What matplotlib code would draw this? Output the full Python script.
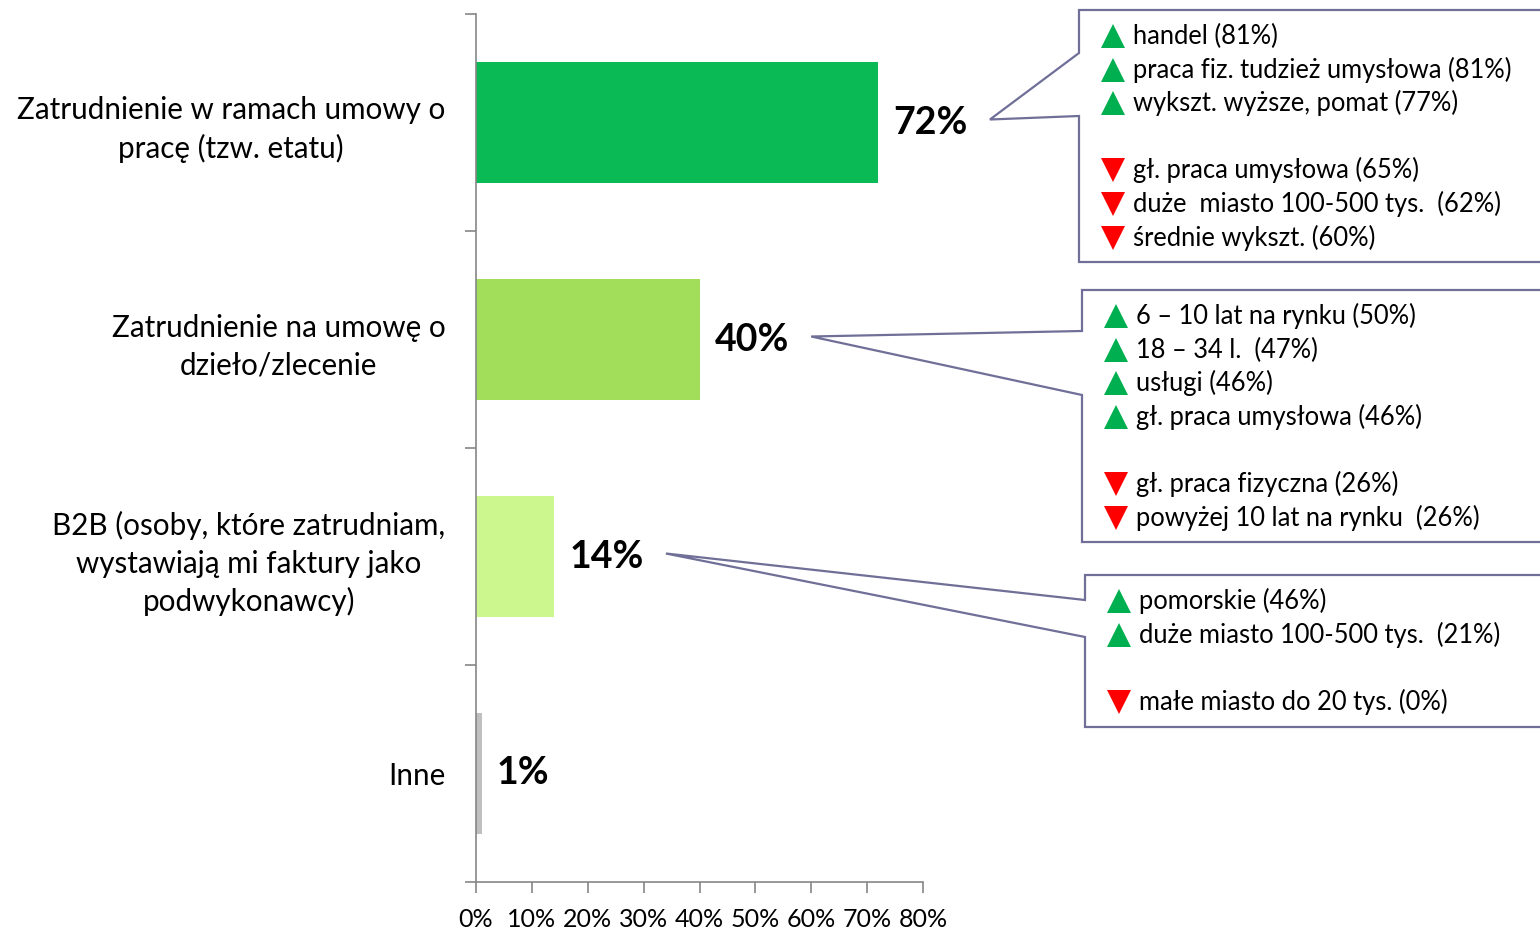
import matplotlib.pyplot as plt
from matplotlib.patches import Polygon
from matplotlib.ticker import FixedLocator, PercentFormatter

plt.rcParams["font.family"] = ["Lato", "DejaVu Sans"]

categories = [
    "Zatrudnienie w ramach umowy o\npracę (tzw. etatu)",
    "Zatrudnienie na umowę o\ndzieło/zlecenie",
    "B2B (osoby, które zatrudniam,\nwystawiają mi faktury jako\npodwykonawcy)",
    "Inne",
]
shares = [72, 40, 14, 1]
bar_colors = ["#0abb55", "#a3de5a", "#ccf78f", "#bfbfbf"]
x_ticks = [0, 10, 20, 30, 40, 50, 60, 70, 80]

# groups that differ from the average, per answer ("up" = above, "down" = below)
etat_up = ["handel (81%)", "praca fiz. tudzież umysłowa (81%)", "wykszt. wyższe, pomat (77%)"]
etat_down = ["gł. praca umysłowa (65%)", "duże  miasto 100-500 tys.  (62%)", "średnie wykszt. (60%)"]
dzielo_up = ["6 – 10 lat na rynku (50%)", "18 – 34 l.  (47%)", "usługi (46%)", "gł. praca umysłowa (46%)"]
dzielo_down = ["gł. praca fizyczna (26%)", "powyżej 10 lat na rynku  (26%)"]
b2b_up = ["pomorskie (46%)", "duże miasto 100-500 tys.  (21%)"]
b2b_down = ["małe miasto do 20 tys. (0%)"]

W, H = 1540, 932
AXIS_GRAY = "#868686"
BOX_EDGE = "#6f6f98"

fig = plt.figure(figsize=(W / 100, H / 100), dpi=100)
ax = fig.add_axes([476 / W, 50 / H, 447 / W, 868 / H])

ypos = list(range(len(categories)))
ax.barh(ypos, shares, height=0.555, color=bar_colors)
ax.set_xlim(0, 80)
ax.set_ylim(3.5, -0.5)

ax.set_xticks(x_ticks)
ax.xaxis.set_major_formatter(PercentFormatter(decimals=0))
ax.tick_params(axis="x", length=8, width=1.2, color=AXIS_GRAY, pad=11, labelsize=18)

ax.set_yticks(ypos)
ax.set_yticklabels(categories, multialignment="center", fontsize=21.3, linespacing=1.4)
ax.yaxis.set_minor_locator(FixedLocator([-0.5, 0.5, 1.5, 2.5, 3.5]))
ax.tick_params(axis="y", which="major", length=0, pad=22)
ax.tick_params(axis="y", which="minor", length=8, width=1.2, color=AXIS_GRAY)

for side in ["top", "right"]:
    ax.spines[side].set_visible(False)
for side in ["left", "bottom"]:
    ax.spines[side].set_color(AXIS_GRAY)
    ax.spines[side].set_linewidth(1.2)

value_labels = []
for i, v in enumerate(shares):
    t = ax.annotate(f"{v}%", (v, i), xytext=(11, 0), textcoords="offset points",
                    ha="left", va="center", fontsize=27, fontweight="bold")
    value_labels.append(t)

# overlay in pixel units (y down) for the callout boxes
ov = fig.add_axes([0, 0, 1, 1])
ov.set_xlim(0, W)
ov.set_ylim(H, 0)
ov.axis("off")
ov.patch.set_alpha(0)

renderer = fig.canvas.get_renderer()


def tip_of(label):
    bb = label.get_window_extent(renderer)
    x, y = ov.transData.inverted().transform((bb.x1, (bb.y0 + bb.y1) / 2))
    return x + 22, y - 3


def callout(label, left, top, bottom, wedge_top, wedge_bot, up, down):
    tip = tip_of(label)
    right = W + 30
    verts = [(left, wedge_top), tip, (left, wedge_bot), (left, bottom),
             (right, bottom), (right, top), (left, top)]
    ov.add_patch(Polygon(verts, closed=True, facecolor="white",
                         edgecolor=BOX_EDGE, linewidth=1.6, clip_on=False))
    rows = [("up", s) for s in up] + [None] + [("down", s) for s in down]
    for k, row in enumerate(rows):
        if row is None:
            continue
        kind, text = row
        y = top + 26 + k * 33.6
        if kind == "up":
            ov.plot(left + 34, y, marker="^", ms=17, color="#00b050", mew=0)
        else:
            ov.plot(left + 34, y, marker="v", ms=17, color="#ff0000", mew=0)
        ov.text(left + 54, y + 8, text, fontsize=18.4, ha="left", va="baseline")


callout(value_labels[0], 1079, 10, 262, 53, 116, etat_up, etat_down)
callout(value_labels[1], 1082, 290, 542, 331, 395, dzielo_up, dzielo_down)
callout(value_labels[2], 1085, 575, 727, 600, 637, b2b_up, b2b_down)

fig.savefig("out.png", dpi=100)
